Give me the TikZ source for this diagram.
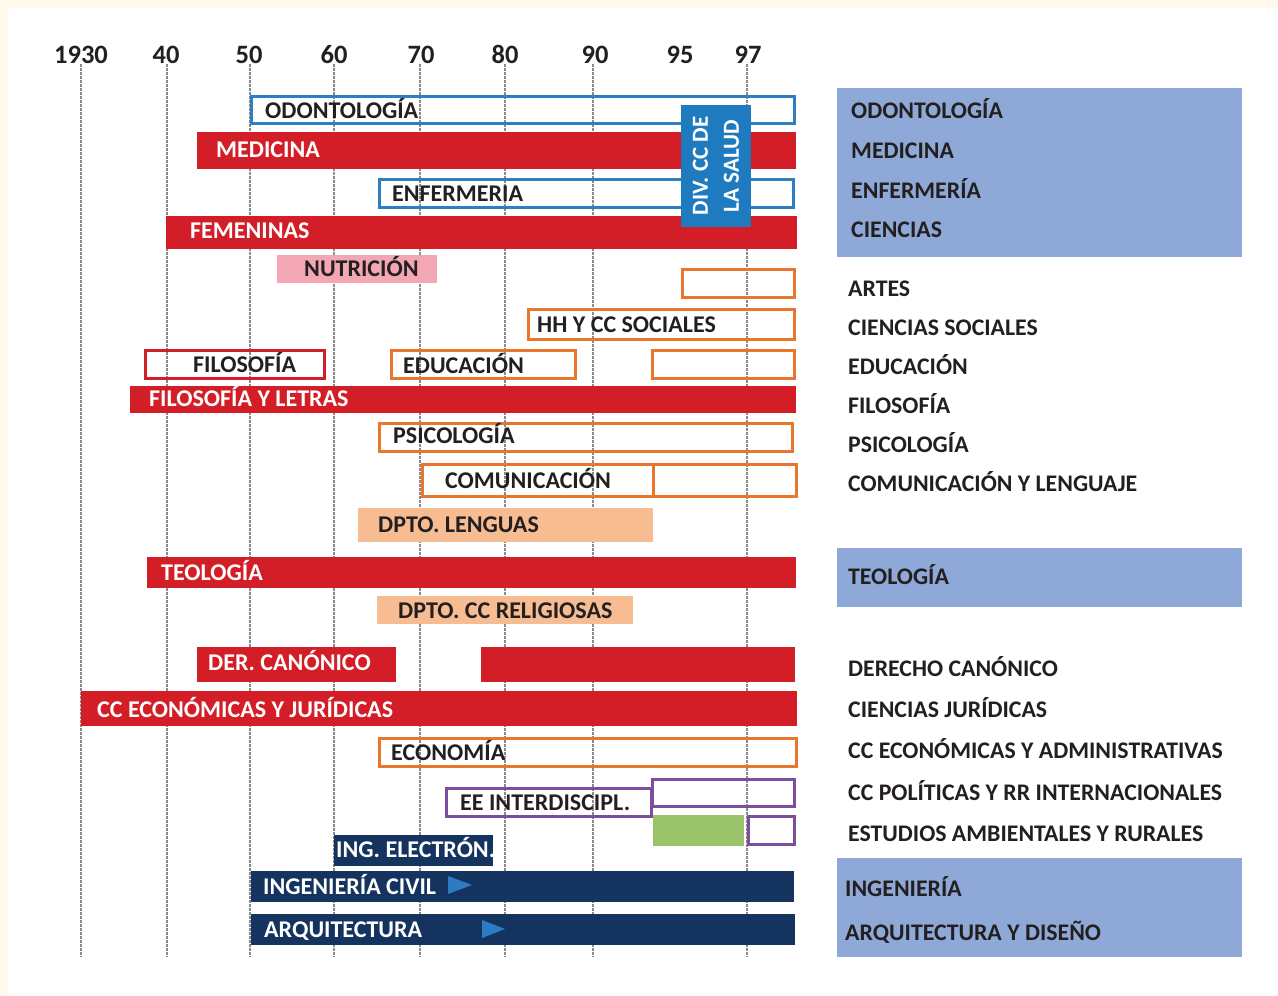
\documentclass[tikz,border=0pt]{standalone}
\usepackage{fontspec}
\setmainfont{Carlito}
\definecolor{cream}{HTML}{FFF9EC}
\definecolor{cred}{HTML}{D31E27}
\definecolor{cblue}{HTML}{2E7EC1}
\definecolor{cdiv}{HTML}{1F7BBF}
\definecolor{cpink}{HTML}{F3A7B5}
\definecolor{corange}{HTML}{E8762D}
\definecolor{cpeach}{HTML}{F7BC91}
\definecolor{cpurple}{HTML}{7B4F9E}
\definecolor{cgreen}{HTML}{9BC46A}
\definecolor{cnavy}{HTML}{14345F}
\definecolor{ctri}{HTML}{2D7CC3}
\definecolor{cpanel}{HTML}{8EA9D7}
\definecolor{ctext}{HTML}{231F20}
\definecolor{cgrid}{HTML}{8A8A8A}
\tikzset{
  txt/.style={font=\bfseries\fontsize{24}{28}\selectfont, inner sep=0pt, text=ctext, anchor=base west},
  wtxt/.style={txt, text=white},
  ltxt/.style={font=\bfseries\fontsize{23.8}{28}\selectfont, inner sep=0pt, text=ctext, anchor=base west},
  year/.style={font=\bfseries\fontsize{26.5}{30}\selectfont, inner sep=0pt, text=ctext, anchor=base},
  gridline/.style={draw=cgrid, line width=1.6pt, dash pattern=on 2.5pt off 1.5pt},
  redbar/.style={fill=cred},
  bluebox/.style={draw=cblue, line width=3pt},
  orbox/.style={draw=corange, line width=3pt},
  redbox/.style={draw=cred, line width=3pt},
  purbox/.style={draw=cpurple, line width=3pt},
  pinkbar/.style={fill=cpink},
  peachbar/.style={fill=cpeach},
  navybar/.style={fill=cnavy},
  panel/.style={fill=cpanel},
}
\begin{document}
\begin{tikzpicture}[x=1pt,y=-1pt]
\useasboundingbox (0,0) rectangle (1278,996);
\fill[white] (0,0) rectangle (1278,996);
\fill[cream] (0,0) rectangle (1278,8);
\fill[cream] (0,0) rectangle (8,996);

% grid lines
\foreach \x in {81,167,250,334,420,505,593,747}
  \draw[gridline] (\x,64) -- (\x,957);

% year labels
\node[year] (y30) at (81,63) {1930};
\node[year] (y40) at (166,63) {40};
\node[year] (y50) at (249,63) {50};
\node[year] (y60) at (334,63) {60};
\node[year] (y70) at (421,63) {70};
\node[year] (y80) at (505,63) {80};
\node[year] (y90) at (595,63) {90};
\node[year] (y95) at (680,63) {95};
\node[year] (y97) at (748,63) {97};

% bars
\path[bluebox] (251.5,96.5) rectangle (794.5,123.5);
\path[redbar] (197,132) rectangle (796,169);
\path[bluebox] (379.5,179.5) rectangle (793.5,207.5);
\path[redbar] (166,216) rectangle (797,249);
\path[pinkbar] (277,255) rectangle (437,283);
\path[orbox] (682.5,269.5) rectangle (794.5,297.5);
\path[orbox] (528.5,309.5) rectangle (794.5,339.5);
\path[redbox] (145.5,350.5) rectangle (324.5,378.5);
\path[orbox] (391.5,350.5) rectangle (575.5,378.5);
\path[orbox] (652.5,350.5) rectangle (794.5,378.5);
\path[redbar] (130,386) rectangle (796,413);
\path[orbox] (379.5,423.5) rectangle (792.5,451.5);
\path[orbox] (422.5,464.5) rectangle (796.5,496.5);
\draw[corange, line width=3pt] (653,464.5) -- (653,496.5);
\path[peachbar] (358,508) rectangle (653,542);
\path[redbar] (147,557) rectangle (796,588);
\path[peachbar] (377,596) rectangle (633,624);
\path[redbar] (197,647) rectangle (396,682);
\path[redbar] (481,647) rectangle (795,682);
\path[redbar] (81,691) rectangle (797,726);
\path[orbox] (379.5,738.5) rectangle (796.5,766.5);
\path[purbox] (446.5,788.5) rectangle (651.5,816.5);
\path[purbox] (652.5,779.5) rectangle (794.5,806.5);
\path[fill=cgreen] (653,815) rectangle (744,846);
\path[purbox] (748.5,816.5) rectangle (794.5,844.5);
\path[navybar] (334,835) rectangle (493,866);
\path[navybar] (251,871) rectangle (794,902);
\path[navybar] (251,914) rectangle (795,945);
\fill[ctri] (448,876) -- (472,885) -- (448,894) -- cycle;
\fill[ctri] (482,920) -- (505,929) -- (482,938) -- cycle;

% DIV CC DE LA SALUD
\path[fill=cdiv] (681,105) rectangle (751,227);
\node[font=\bfseries\fontsize{23}{31}\selectfont, text=white, inner sep=0pt, rotate=90, align=center] (div) at (716,166) {DIV. CC DE\\LA SALUD};

% chart labels
\node[txt] (odo) at (265,118) {ODONTOLOGÍA};
\node[wtxt] (med) at (216,157) {MEDICINA};
\node[txt] (enf) at (392,201) {ENFERMERIA};
\node[wtxt] (fem) at (190,238) {FEMENINAS};
\node[txt] (nut) at (304,276) {NUTRICIÓN};
\node[txt] (hh) at (537,332) {HH Y CC SOCIALES};
\node[txt] (fil) at (193,372) {FILOSOFÍA};
\node[txt] (edu) at (403,373) {EDUCACIÓN};
\node[wtxt] (fyl) at (149,406) {FILOSOFÍA Y LETRAS};
\node[txt] (psi) at (393,443) {PSICOLOGÍA};
\node[txt] (com) at (445,488) {COMUNICACIÓN};
\node[txt] (len) at (378,532) {DPTO. LENGUAS};
\node[wtxt] (teo) at (161,580) {TEOLOGÍA};
\node[txt] (rel) at (398,618) {DPTO. CC RELIGIOSAS};
\node[wtxt] (der) at (208,670) {DER. CANÓNICO};
\node[wtxt] (ecj) at (97,717) {CC ECONÓMICAS Y JURÍDICAS};
\node[txt] (eco) at (391,760) {ECONOMÍA};
\node[txt] (eei) at (460,810) {EE INTERDISCIPL.};
\node[wtxt] (ing) at (336,857) {ING. ELECTRÓN.};
\node[wtxt] (civ) at (263,894) {INGENIERÍA CIVIL};
\node[wtxt] (arq) at (264,937) {ARQUITECTURA};

% right panels
\path[panel] (837,88) rectangle (1242,257);
\path[panel] (837,548) rectangle (1242,607);
\path[panel] (837,858) rectangle (1242,957);
\node[ltxt] (r1) at (851,118) {ODONTOLOGÍA};
\node[ltxt] (r2) at (851,158) {MEDICINA};
\node[ltxt] (r3) at (851,198) {ENFERMERÍA};
\node[ltxt] (r4) at (851,237) {CIENCIAS};
\node[ltxt] (r5) at (848,296) {ARTES};
\node[ltxt] (r6) at (848,335) {CIENCIAS SOCIALES};
\node[ltxt] (r7) at (848,374) {EDUCACIÓN};
\node[ltxt] (r8) at (848,413) {FILOSOFÍA};
\node[ltxt] (r9) at (848,452) {PSICOLOGÍA};
\node[ltxt] (r10) at (848,491) {COMUNICACIÓN Y LENGUAJE};
\node[ltxt] (r11) at (848,584) {TEOLOGÍA};
\node[ltxt] (r12) at (848,676) {DERECHO CANÓNICO};
\node[ltxt] (r13) at (848,717) {CIENCIAS JURÍDICAS};
\node[ltxt] (r14) at (848,758) {CC ECONÓMICAS Y ADMINISTRATIVAS};
\node[ltxt] (r15) at (848,800) {CC POLÍTICAS Y RR INTERNACIONALES};
\node[ltxt] (r16) at (848,841) {ESTUDIOS AMBIENTALES Y RURALES};
\node[ltxt] (r17) at (845,896) {INGENIERÍA};
\node[ltxt] (r18) at (845,940) {ARQUITECTURA Y DISEÑO};
\end{tikzpicture}
\end{document}
